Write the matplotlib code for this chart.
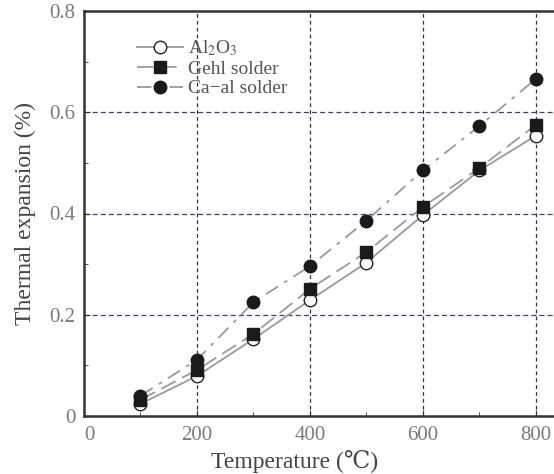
import matplotlib
matplotlib.use("Agg")
import matplotlib.pyplot as plt
from matplotlib.ticker import MultipleLocator

plt.rcParams.update({
    "font.family": ["Liberation Serif", "DejaVu Serif"],
    "mathtext.fontset": "stix",
})

temps = [100, 200, 300, 400, 500, 600, 700, 800]
al2o3 = [0.024, 0.079, 0.152, 0.229, 0.303, 0.397, 0.485, 0.554]
gehl = [0.032, 0.091, 0.162, 0.251, 0.324, 0.413, 0.490, 0.575]
caal = [0.040, 0.111, 0.225, 0.296, 0.386, 0.485, 0.573, 0.666]

x_ticks = [0, 200, 400, 600, 800]
y_ticks = [0, 0.2, 0.4, 0.6, 0.8]
y_tick_labels = ["0", "0.2", "0.4", "0.6", "0.8"]

GRAY_TXT = "#7a7a7a"
LINE = "#9a9a9a"

fig = plt.figure(figsize=(5.54, 4.74), dpi=100)
ax = fig.add_axes([84 / 554, 1 - 416 / 474, 1 - 84 / 554, (416 - 11) / 474])

ax.plot(temps, al2o3, "-", color=LINE, lw=1.3, marker="o", ms=9,
        mfc="white", mec="#222222", mew=1.0, label="Al$_2$O$_3$", zorder=5)
ax.plot(temps, gehl, color=LINE, lw=1.3, dashes=(9, 4), marker="s", ms=8.5,
        mfc="#1a1a1a", mec="#1a1a1a", label="Gehl solder", zorder=6)
ax.plot(temps, caal, color=LINE, lw=1.3, dashes=(8, 4, 2, 4), marker="o", ms=9,
        mfc="#1a1a1a", mec="#1a1a1a", label="Ca\u2212al solder", zorder=7)

ax.set_xlim(0, 832)
ax.set_ylim(0, 0.8)
ax.set_xticks(x_ticks)
ax.set_xticklabels([str(v) for v in x_ticks])
ax.set_yticks(y_ticks)
ax.set_yticklabels(y_tick_labels)
ax.xaxis.set_minor_locator(MultipleLocator(100))
ax.yaxis.set_minor_locator(MultipleLocator(0.1))

for v in [200, 400, 600, 800]:
    ax.axvline(v, color="#333333", lw=0.9, dashes=(3, 2.5), zorder=1)
for v in [0.2, 0.4, 0.6]:
    ax.axhline(v, color="#4a3a6a", lw=0.9, dashes=(4, 2.5), zorder=1)

ax.tick_params(which="both", direction="in", colors="#333333",
               labelcolor=GRAY_TXT, labelsize=15)
ax.tick_params(which="major", length=4)
ax.tick_params(which="minor", length=3)
ax.tick_params(axis="x", pad=7)
ax.tick_params(axis="y", pad=6)
ax.get_xticklabels()[0].set_horizontalalignment("left")

ax.spines["right"].set_visible(False)
for s in ["left", "bottom", "top"]:
    ax.spines[s].set_linewidth(1.8)
    ax.spines[s].set_color("#333333")

ax.set_xlabel("Temperature (\u2103)", fontsize=17, color="#444444")
ax.xaxis.set_label_coords(0.449, -0.085)
ax.set_ylabel("Thermal expansion (%)", fontsize=17, color="#444444", labelpad=10)

leg = ax.legend(loc="upper left", bbox_to_anchor=(0.075, 0.975), frameon=False,
                fontsize=14, handlelength=2.4, labelspacing=0.1,
                handletextpad=0.25, labelcolor="#555555")

fig.savefig("out.png", dpi=100)
